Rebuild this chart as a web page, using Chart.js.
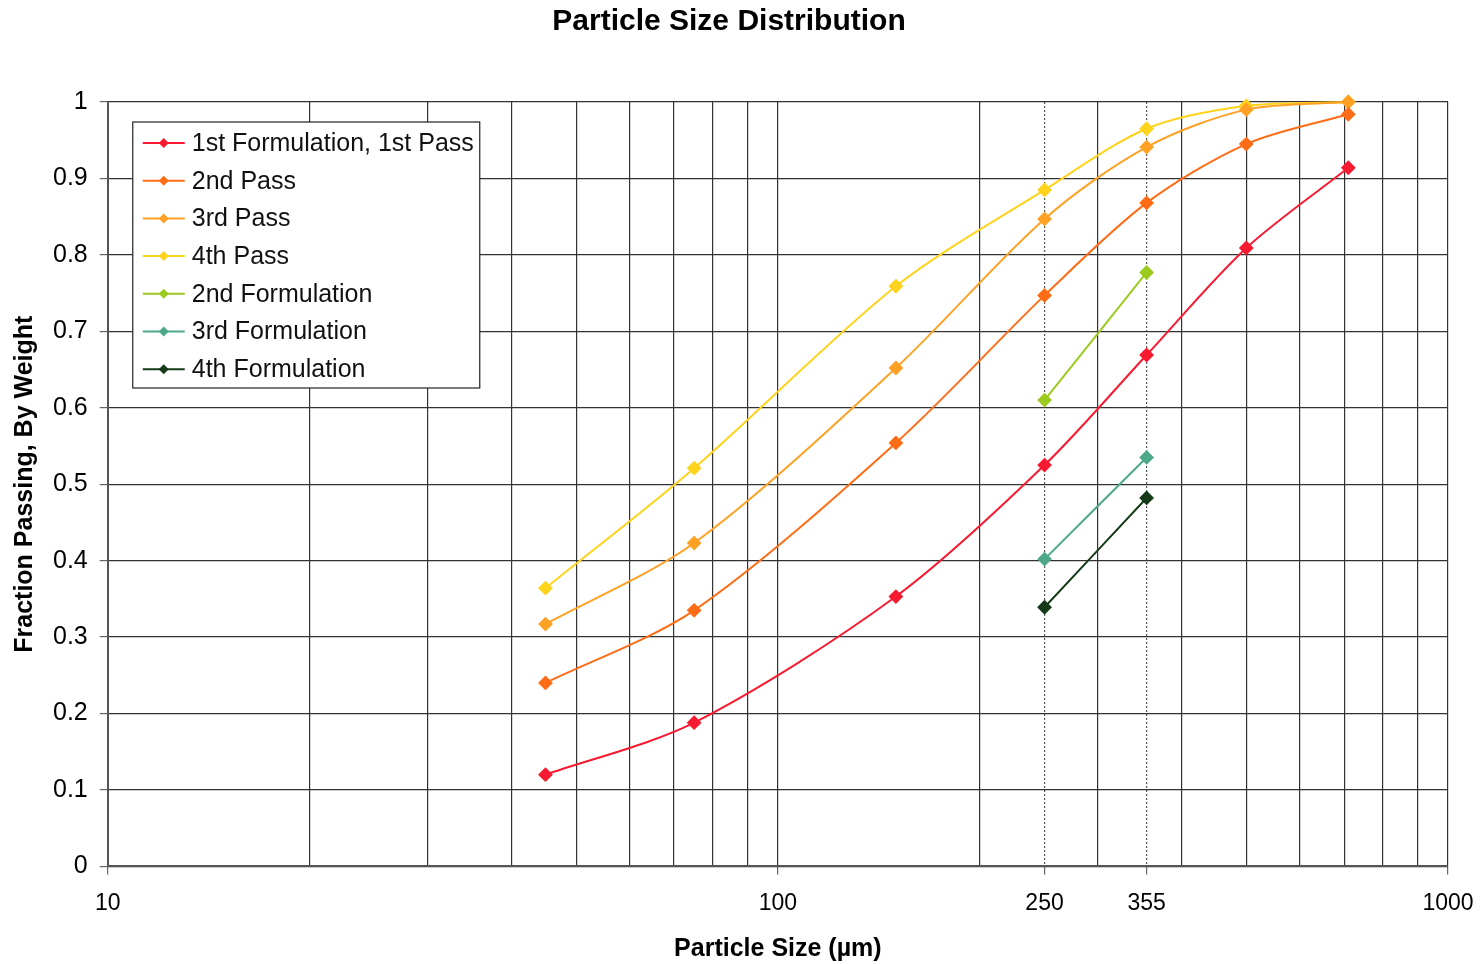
<!DOCTYPE html>
<html>
<head>
<meta charset="utf-8">
<script src="https://cdn.jsdelivr.net/npm/chart.js@4/dist/chart.umd.min.js"></script>
<style>
  html, body { margin: 0; padding: 0; background: #fff; }
  #wrap { width: 1482px; height: 964px; }
</style>
</head>
<body>
<div id="wrap"><canvas id="psd-chart" width="1482" height="964"></canvas></div>
<script>
// sieve sizes (um) and fraction passing
var sizes = [45, 75, 150, 250, 355, 500, 710];
var firstPass = [0.120, 0.188, 0.353, 0.525, 0.669, 0.809, 0.914];
var secondPass = [0.240, 0.335, 0.554, 0.747, 0.868, 0.945, 0.984];
var thirdPass = [0.317, 0.423, 0.652, 0.847, 0.941, 0.990, 1.0];
var fourthPass = [0.364, 0.521, 0.759, 0.885, 0.965, 0.995, 1.0];

var formSizes = [250, 355];
var secondForm = [0.610, 0.777];
var thirdForm = [0.402, 0.535];
var fourthForm = [0.339, 0.482];

// x grid lines and which of them carry a label
var xGridValues = [10, 20, 30, 40, 50, 60, 70, 80, 90, 100, 200, 250, 300, 355, 400, 500, 600, 700, 800, 900, 1000];
var xLabelled = [10, 100, 250, 355, 1000];
var dottedSizes = [250, 355];

var FONT = '"Liberation Sans", Arial, sans-serif';

function pts(xs, ys) {
  return xs.map(function (x, i) { return { x: x, y: ys[i] }; });
}

function series(label, xs, ys, color) {
  return {
    label: label,
    data: pts(xs, ys),
    borderColor: color,
    backgroundColor: color,
    borderWidth: 2,
    pointStyle: 'rectRot',
    pointRadius: 6,
    pointHoverRadius: 6,
    tension: 0.3,
    clip: false
  };
}

// legend box drawn inside the plot area, top left
var boxLegend = {
  id: 'boxLegend',
  afterDraw: function (chart) {
    var ctx = chart.ctx;
    var area = chart.chartArea;
    var x0 = area.left + 25, y0 = area.top + 20;
    var w = 347, h = 266, row = 37.7;
    ctx.save();
    ctx.fillStyle = '#fff';
    ctx.fillRect(x0, y0, w, h);
    ctx.strokeStyle = '#222';
    ctx.lineWidth = 1.2;
    ctx.strokeRect(x0, y0, w, h);
    ctx.font = '25px ' + FONT;
    ctx.textBaseline = 'middle';
    chart.data.datasets.forEach(function (ds, i) {
      var cy = y0 + 21 + i * row;
      ctx.strokeStyle = ds.borderColor;
      ctx.lineWidth = 2;
      ctx.beginPath();
      ctx.moveTo(x0 + 10, cy);
      ctx.lineTo(x0 + 52, cy);
      ctx.stroke();
      ctx.fillStyle = ds.backgroundColor;
      ctx.beginPath();
      ctx.moveTo(x0 + 31, cy - 5);
      ctx.lineTo(x0 + 36, cy);
      ctx.lineTo(x0 + 31, cy + 5);
      ctx.lineTo(x0 + 26, cy);
      ctx.closePath();
      ctx.fill();
      ctx.fillStyle = '#111';
      ctx.fillText(ds.label, x0 + 59, cy + 1);
    });
    ctx.restore();
  }
};

var ctx = document.getElementById('psd-chart').getContext('2d');
var psdChart = new Chart(ctx, {
  type: 'line',
  data: {
    datasets: [
      series('1st Formulation, 1st Pass', sizes, firstPass, '#f71a30'),
      series('2nd Pass', sizes, secondPass, '#ff6c16'),
      series('3rd Pass', sizes, thirdPass, '#ffa125'),
      series('4th Pass', sizes, fourthPass, '#ffd21c'),
      series('2nd Formulation', formSizes, secondForm, '#9acb1e'),
      series('3rd Formulation', formSizes, thirdForm, '#4ea88a'),
      series('4th Formulation', formSizes, fourthForm, '#143a18')
    ]
  },
  options: {
    responsive: false,
    animation: false,
    layout: { padding: { left: 10, right: 34, top: 0, bottom: 0 } },
    plugins: {
      legend: { display: false },
      tooltip: { enabled: false },
      title: {
        display: true,
        text: 'Particle Size Distribution',
        color: '#000',
        font: { family: FONT, size: 30, weight: 'bold' },
        padding: { top: 4, bottom: 62 }
      }
    },
    scales: {
      x: {
        type: 'logarithmic',
        min: 10,
        max: 1000,
        afterBuildTicks: function (scale) {
          scale.ticks = xGridValues.map(function (v) { return { value: v }; });
        },
        afterFit: function (scale) {
          // let the "1000" label hang into the right margin
          scale.paddingRight = 0;
        },
        ticks: {
          autoSkip: false,
          maxRotation: 0,
          padding: 15,
          color: '#000',
          font: { family: FONT, size: 23 },
          callback: function (v) { return xLabelled.indexOf(v) >= 0 ? String(v) : ''; }
        },
        grid: {
          color: function (c) {
            if (c.tick && dottedSizes.indexOf(c.tick.value) >= 0) return '#555';
            return '#333';
          },
          lineWidth: 1.2,
          tickLength: 8,
          tickColor: function (c) {
            return c.tick && xLabelled.indexOf(c.tick.value) >= 0 ? '#666' : 'rgba(0,0,0,0)';
          }
        },
        border: {
          color: '#555',
          width: 2,
          dash: function (c) {
            return c.tick && dottedSizes.indexOf(c.tick.value) >= 0 ? [2, 2] : [];
          }
        },
        title: {
          display: true,
          text: 'Particle Size (µm)',
          color: '#000',
          font: { family: FONT, size: 25, weight: 'bold' },
          padding: { top: 2, bottom: 0 }
        }
      },
      y: {
        min: 0,
        max: 1,
        ticks: {
          stepSize: 0.1,
          padding: 12,
          color: '#000',
          font: { family: FONT, size: 25 },
          callback: function (v) { return String(+v.toFixed(1)); }
        },
        grid: {
          color: '#333',
          lineWidth: 1.2,
          tickLength: 8,
          tickColor: '#666'
        },
        border: { color: '#555', width: 2 },
        title: {
          display: true,
          text: 'Fraction Passing, By Weight',
          color: '#000',
          font: { family: FONT, size: 25, weight: 'bold' },
          padding: { top: 0, bottom: 1 }
        }
      }
    }
  },
  plugins: [boxLegend]
});
</script>
</body>
</html>
